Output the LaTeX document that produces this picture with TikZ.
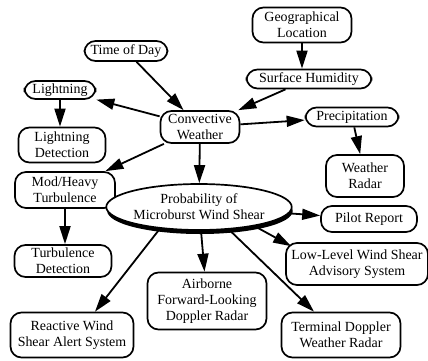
\documentclass[tikz,border=0pt]{standalone}
\usepackage{fontspec}
\setmainfont{Liberation Serif}
\usetikzlibrary{shapes.geometric,arrows.meta,shadows}
\begin{document}
\begin{tikzpicture}[x=1bp,y=-1bp,
  box/.style={draw,line width=1.7bp,rounded corners=11bp,align=center,inner sep=0pt,
    fill=white,font=\fontsize{14}{16}\selectfont},
  oval/.style={draw,ellipse,line width=1.7bp,align=center,inner sep=0pt,fill=white,
    font=\fontsize{14}{16}\selectfont,
    drop shadow={shadow xshift=1bp,shadow yshift=-4bp,opacity=1,fill=black}},
  link/.style={line width=1.8bp,-{Triangle[length=18bp,width=11bp]}}]
\useasboundingbox (0,0) rectangle (428,361);

% nodes
\node[box,minimum width=83bp,minimum height=20bp] (tod) at (126,51) {Time of Day};
\node[box,minimum width=99bp,minimum height=35bp] (geo) at (302,25) {Geographical\\Location};
\node[box,minimum width=125bp,minimum height=19bp] (hum) at (309,79) {Surface Humidity};
\node[box,minimum width=71bp,minimum height=18bp] (lig) at (60,90) {Lightning};
\node[box,minimum width=87bp,minimum height=35bp] (ligd) at (62,145) {Lightning\\Detection};
\node[box,minimum width=79bp,minimum height=32bp] (conv) at (200,127) {Convective\\Weather};
\node[box,minimum width=93bp,minimum height=19bp] (prec) at (352,117) {Precipitation};
\node[box,minimum width=78bp,minimum height=42bp] (wrad) at (365,176) {Weather\\Radar};
\node[box,minimum width=100bp,minimum height=36bp] (mod) at (65,190) {Mod/Heavy\\Turbulence};
\node[box,minimum width=97bp,minimum height=32bp] (turb) at (63,261) {Turbulence\\Detection};
\node[oval,minimum width=152bp,minimum height=46bp] (prob) at (199,207) {Probability of\\Microburst Wind Shear};
\node[box,minimum width=96bp,minimum height=26bp] (pilot) at (369,219) {Pilot Report};
\node[box,minimum width=142bp,minimum height=42bp] (llwas) at (357,264) {Low-Level Wind Shear\\Advisory System};
\node[box,minimum width=119bp,minimum height=57bp] (afld) at (207,301) {Airborne\\Forward-Looking\\Doppler Radar};
\node[box,minimum width=119bp,minimum height=45bp] (tdwr) at (341,335) {Terminal Doppler\\Weather Radar};
\node[box,minimum width=123bp,minimum height=45bp] (rwsas) at (72,335) {Reactive Wind\\Shear Alert System};

% connectors
\draw[link] (tod) -- (conv);
\draw[link] (geo) -- (geo |- hum.north);
\draw[link] (hum) -- (conv);
\draw[link] (conv) -- (lig);
\draw[link] (lig) -- (lig |- ligd.north);
\draw[link] (conv) -- (prec);
\draw[link] (prec) -- (wrad);
\draw[link] (conv) -- (mod);
\draw[link] (mod) -- (mod |- turb.north);
\draw[link] (conv) -- (prob);
\draw[link] (prob) -- (pilot);
\draw[link] (prob.-19) -- ([shift={(6,4)}]llwas.north west);
\draw[link] (prob) -- (afld);
\draw[link] (prob.-37) -- ([xshift=-27bp]tdwr.north);
\draw[link] (prob.209) -- ([xshift=23bp]rwsas.north);
\end{tikzpicture}
\end{document}
